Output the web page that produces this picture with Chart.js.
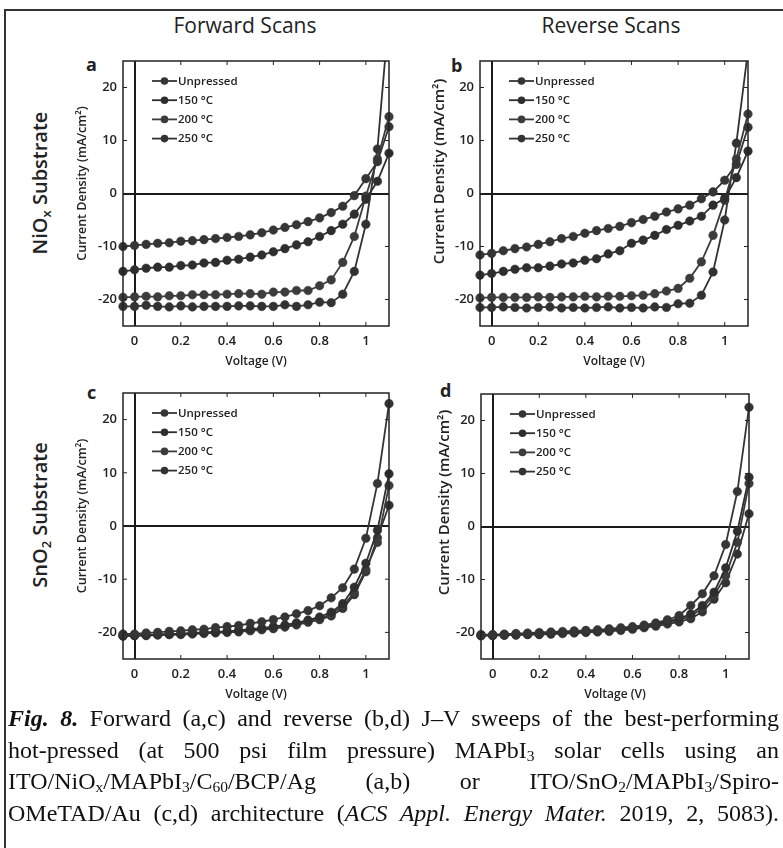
<!DOCTYPE html>
<html>
<head>
<meta charset="utf-8">
<script src="https://cdn.jsdelivr.net/npm/chart.js@4.4.1/dist/chart.umd.min.js"></script>
<style>
  html, body { margin: 0; padding: 0; background: #fff; }
  #page { position: relative; width: 783px; height: 848px; overflow: hidden; background: #fff; font-family: 'Open Sans', sans-serif; color: #222; }
  #page canvas { position: absolute; }
  .frame { position: absolute; left: 4px; top: 9px; width: 900px; height: 900px; border-left: 2px solid #333; border-top: 2px solid #333; }
  .head { position: absolute; top: 10px; width: 220px; text-align: center; font-size: 21px; line-height: 30px; }
  .letter { position: absolute; font-size: 18px; font-weight: 700; line-height: 18px; }
  .row { position: absolute; width: 200px; text-align: center; font-size: 20px; font-weight: 600; line-height: 24px; transform: rotate(-90deg); }
  .row sub { font-size: 13px; vertical-align: -4px; line-height: 0; }
  #caption { position: absolute; left: 8px; top: 703px; width: 771px; font-family: 'Liberation Serif', 'Times New Roman', serif; font-size: 24px; line-height: 31.7px; color: #111; }
  #caption div { text-align: justify; text-align-last: justify; white-space: nowrap; }
  #caption sub { font-size: 15.5px; vertical-align: -3px; line-height: 0; }
</style>
</head>
<body>
<div id="page">
  <div class="frame"></div>
  <div class="head" style="left:135px">Forward Scans</div>
  <div class="head" style="left:501px">Reverse Scans</div>
  <div class="letter" style="left:86px;top:55px">a</div>
  <div class="letter" style="left:451px;top:56px">b</div>
  <div class="letter" style="left:87px;top:383px">c</div>
  <div class="letter" style="left:440px;top:381px">d</div>
  <div class="row" style="left:-60px;top:171px">NiO<sub>x</sub> Substrate</div>
  <div class="row" style="left:-60px;top:503px">SnO<sub>2</sub> Substrate</div>
  <canvas id="panelA"></canvas>
  <canvas id="panelB"></canvas>
  <canvas id="panelC"></canvas>
  <canvas id="panelD"></canvas>
  <div id="caption">
    <div><b><i>Fig. 8.</i></b> Forward (a,c) and reverse (b,d) J–V sweeps of the best-performing</div>
    <div>hot-pressed (at 500 psi film pressure) MAPbI<sub>3</sub> solar cells using an</div>
    <div>ITO/NiO<sub>x</sub>/MAPbI<sub>3</sub>/C<sub>60</sub>/BCP/Ag (a,b) or ITO/SnO<sub>2</sub>/MAPbI<sub>3</sub>/Spiro-</div>
    <div>OMeTAD/Au (c,d) architecture (<i>ACS Appl. Energy Mater.</i> 2019, 2, 5083).</div>
  </div>
</div>
<script>
const voltage = [-0.05, 0, 0.05, 0.1, 0.15, 0.2, 0.25, 0.3, 0.35, 0.4, 0.45, 0.5,
                 0.55, 0.6, 0.65, 0.7, 0.75, 0.8, 0.85, 0.9, 0.95, 1.0, 1.05, 1.1];
const legendLabels = ['Unpressed', '150 °C', '200 °C', '250 °C'];
const xTicks = [0, 0.2, 0.4, 0.6, 0.8, 1];
const yTicks = [-20, -10, 0, 10, 20];
const yTitle = 'Current Density (mA/cm²)';

// a: forward scans, NiOx
const aUnpressed = [-10.0, -9.8, -9.6, -9.4, -9.3, -9.0, -8.9, -8.7, -8.5, -8.3, -8.1, -7.8, -7.4, -6.9, -6.4, -5.9, -5.3, -4.6, -3.6, -2.4, -0.4, 2.8, 6.0, 12.6];
const a150 = [-14.7, -14.4, -14.1, -13.9, -13.9, -13.6, -13.5, -13.1, -13.0, -12.6, -12.4, -12.0, -11.6, -11.0, -10.4, -9.7, -9.1, -8.1, -7.0, -5.8, -3.9, -1.1, 2.3, 7.6];
const a200 = [-19.6, -19.5, -19.4, -19.5, -19.3, -19.3, -19.1, -19.1, -19.1, -19.0, -18.9, -18.9, -19.0, -18.6, -18.6, -18.3, -18.3, -17.4, -16.3, -13.0, -8.1, -0.5, 6.5, 14.5];
const a250 = [-21.3, -21.3, -21.1, -21.3, -21.4, -21.2, -21.4, -21.3, -21.3, -21.3, -21.2, -21.2, -21.3, -21.3, -21.0, -21.3, -21.0, -20.5, -20.6, -19.0, -14.7, -5.8, 8.4, 34];

// b: reverse scans, NiOx
const bUnpressed = [-11.6, -11.3, -10.8, -10.4, -10.1, -9.6, -9.1, -8.5, -8.1, -7.5, -7.0, -6.6, -6.2, -5.5, -4.9, -4.3, -3.5, -2.9, -2.2, -1.0, 0.3, 2.5, 5.5, 12.5];
const b150 = [-15.4, -15.1, -14.7, -14.3, -14.0, -14.0, -13.7, -13.3, -13.1, -12.6, -12.3, -11.4, -10.8, -9.4, -8.8, -7.9, -6.8, -6.0, -5.2, -4.3, -2.2, -0.9, 3.0, 8.0];
const b200 = [-19.7, -19.6, -19.6, -19.6, -19.6, -19.5, -19.6, -19.5, -19.5, -19.4, -19.5, -19.4, -19.4, -19.3, -19.2, -18.9, -18.4, -17.9, -16.0, -12.9, -7.9, -1.3, 6.5, 15.0];
const b250 = [-21.5, -21.5, -21.4, -21.5, -21.6, -21.5, -21.4, -21.6, -21.5, -21.6, -21.5, -21.4, -21.6, -21.5, -21.6, -21.4, -21.5, -20.8, -20.7, -19.2, -14.8, -5.0, 9.5, 27];

// c: forward scans, SnO2
const cUnpressed = [-20.3, -20.3, -20.1, -20.0, -19.8, -19.7, -19.5, -19.4, -19.1, -18.9, -18.7, -18.3, -18.0, -17.6, -17.1, -16.5, -15.9, -15.0, -13.5, -11.6, -8.1, -2.3, 8.0, 23.0];
const c150 = [-20.6, -20.6, -20.5, -20.4, -20.3, -20.3, -20.1, -20.0, -19.9, -19.8, -19.6, -19.4, -19.2, -18.9, -18.6, -18.2, -17.7, -17.1, -16.2, -14.6, -11.5, -7.0, -0.8, 9.8];
const c200 = [-20.6, -20.5, -20.5, -20.4, -20.4, -20.3, -20.2, -20.1, -20.0, -19.9, -19.7, -19.6, -19.4, -19.1, -18.8, -18.4, -17.9, -17.4, -16.6, -15.0, -12.5, -8.2, -3.1, 7.6];
const c250 = [-20.7, -20.6, -20.6, -20.5, -20.4, -20.4, -20.3, -20.2, -20.1, -20.0, -19.9, -19.7, -19.5, -19.3, -19.0, -18.6, -18.1, -17.6, -16.9, -15.5, -12.9, -8.6, -2.2, 3.9];

// d: reverse scans, SnO2
const dUnpressed = [-20.4, -20.4, -20.3, -20.2, -20.1, -20.0, -19.9, -19.8, -19.7, -19.6, -19.5, -19.3, -19.1, -18.9, -18.6, -18.2, -17.6, -16.8, -14.9, -12.7, -9.3, -3.4, 6.6, 22.5];
const d150 = [-20.5, -20.5, -20.4, -20.3, -20.3, -20.2, -20.1, -20.0, -19.9, -19.8, -19.7, -19.5, -19.3, -19.1, -18.8, -18.4, -17.9, -17.4, -16.5, -14.9, -12.4, -7.8, -0.9, 9.3];
const d200 = [-20.6, -20.5, -20.5, -20.4, -20.3, -20.3, -20.2, -20.1, -20.0, -19.9, -19.8, -19.6, -19.4, -19.2, -18.9, -18.6, -18.1, -17.6, -16.9, -15.4, -13.0, -9.3, -3.0, 8.1];
const d250 = [-20.6, -20.6, -20.5, -20.5, -20.4, -20.4, -20.3, -20.2, -20.1, -20.0, -19.9, -19.8, -19.6, -19.4, -19.1, -18.8, -18.4, -18.0, -17.4, -16.1, -13.7, -10.6, -5.2, 2.4];

const seriesColors = ['#353535', '#2e2e2e', '#3c3c3c', '#323232'];

Chart.defaults.font.family = "'Open Sans', sans-serif";
Chart.defaults.color = '#222';

// box, inward ticks
const panelFrame = {
  id: 'panelFrame',
  afterDraw(chart) {
    const { ctx, chartArea: a, scales: { x, y } } = chart;
    ctx.save();
    ctx.strokeStyle = '#222';
    ctx.lineWidth = 1.5;
    ctx.strokeRect(a.left, a.top, a.right - a.left, a.bottom - a.top);
    ctx.lineWidth = 1;
    ctx.beginPath();
    xTicks.forEach(v => {
      const px = x.getPixelForValue(v);
      ctx.moveTo(px, a.bottom); ctx.lineTo(px, a.bottom - 4);
      ctx.moveTo(px, a.top); ctx.lineTo(px, a.top + 4);
    });
    yTicks.forEach(v => {
      const py = y.getPixelForValue(v);
      ctx.moveTo(a.left, py); ctx.lineTo(a.left + 4, py);
      ctx.moveTo(a.right, py); ctx.lineTo(a.right - 4, py);
    });
    ctx.stroke();
    ctx.restore();
  }
};

// legend drawn inside the plot, top left
const insideLegend = {
  id: 'insideLegend',
  afterDraw(chart) {
    const { ctx, chartArea: a } = chart;
    ctx.save();
    ctx.font = "600 11.5px 'Open Sans'";
    ctx.textBaseline = 'middle';
    chart.data.datasets.forEach((ds, i) => {
      const yy = a.top + 20 + i * 19.2;
      const x0 = a.left + 29;
      ctx.strokeStyle = ds.borderColor;
      ctx.lineWidth = 1.8;
      ctx.beginPath(); ctx.moveTo(x0, yy); ctx.lineTo(x0 + 25, yy); ctx.stroke();
      ctx.fillStyle = ds.borderColor;
      ctx.beginPath(); ctx.arc(x0 + 12.5, yy, 3.8, 0, Math.PI * 2); ctx.fill();
      ctx.fillStyle = '#222';
      ctx.fillText(ds.label, x0 + 26, yy + 0.5);
    });
    ctx.restore();
  }
};

// rotated y title, the source places it a little above the axis middle
const sideTitle = {
  id: 'sideTitle',
  afterDraw(chart, args, opts) {
    const { ctx, chartArea: a } = chart;
    ctx.save();
    ctx.translate(a.left - opts.dx, (a.top + a.bottom) / 2 - opts.dy);
    ctx.rotate(-Math.PI / 2);
    ctx.font = `600 ${opts.size}px 'Open Sans'`;
    ctx.fillStyle = '#222';
    ctx.textAlign = 'center';
    ctx.textBaseline = 'middle';
    ctx.fillText(yTitle, 0, 0);
    ctx.restore();
  }
};

const zeroGrid = {
  drawTicks: false,
  lineWidth: 2,
  color: c => (c.tick && c.tick.value === 0) ? '#1a1a1a' : 'rgba(0,0,0,0)'
};

function makePanel(id, area, series, title) {
  const canvas = document.getElementById(id);
  canvas.width = area.r - area.l + 62;
  canvas.height = area.b - area.t + 22 + 46;
  canvas.style.left = (area.l - 50) + 'px';
  canvas.style.top = (area.t - 22) + 'px';

  new Chart(canvas, {
    type: 'line',
    data: {
      datasets: series.map((s, i) => ({
        label: legendLabels[i],
        data: voltage.map((v, k) => ({ x: v, y: s[k] })),
        borderColor: seriesColors[i],
        backgroundColor: seriesColors[i],
        pointBackgroundColor: seriesColors[i],
        pointBorderColor: seriesColors[i],
        borderWidth: 1.8,
        pointRadius: 4.3,
        pointBorderWidth: 0.5,
        tension: 0,
        clip: { left: 6, top: 0, right: 6, bottom: 0 }
      }))
    },
    options: {
      responsive: false,
      animation: false,
      devicePixelRatio: 1,
      layout: { padding: { left: 0, top: 22, right: 12, bottom: 0 } },
      plugins: { legend: { display: false }, tooltip: { enabled: false }, sideTitle: title },
      scales: {
        x: {
          type: 'linear',
          min: -0.05,
          max: 1.1,
          afterBuildTicks: s => { s.ticks = xTicks.map(v => ({ value: v })); },
          afterFit: s => { s.height = 46; },
          grid: zeroGrid,
          border: { display: false },
          ticks: { font: { size: 13, weight: 600 }, color: '#222', padding: 7, maxRotation: 0, autoSkip: false,
                   callback: v => String(v) },
          title: { display: true, text: 'Voltage (V)', font: { size: 12, weight: 600 }, color: '#222',
                   padding: { top: 0, bottom: 3 } }
        },
        y: {
          min: -25,
          max: 25,
          afterBuildTicks: s => { s.ticks = yTicks.map(v => ({ value: v })); },
          afterFit: s => { s.width = 50; },
          grid: zeroGrid,
          border: { display: false },
          ticks: { font: { size: 13, weight: 600 }, color: '#222', padding: 6, autoSkip: false }
        }
      }
    },
    plugins: [panelFrame, insideLegend, sideTitle]
  });
}

makePanel('panelA', { l: 123, t: 61, r: 389, b: 326 }, [aUnpressed, a150, a200, a250], { size: 12.5, dx: 41, dy: 10 });
makePanel('panelB', { l: 480, t: 61, r: 748, b: 326 }, [bUnpressed, b150, b200, b250], { size: 15, dx: 40, dy: 22 });
makePanel('panelC', { l: 123, t: 393, r: 389, b: 659 }, [cUnpressed, c150, c200, c250], { size: 12.5, dx: 41, dy: 10 });
makePanel('panelD', { l: 481, t: 394, r: 749, b: 659 }, [dUnpressed, d150, d200, d250], { size: 15, dx: 36, dy: 24 });
</script>
</body>
</html>
